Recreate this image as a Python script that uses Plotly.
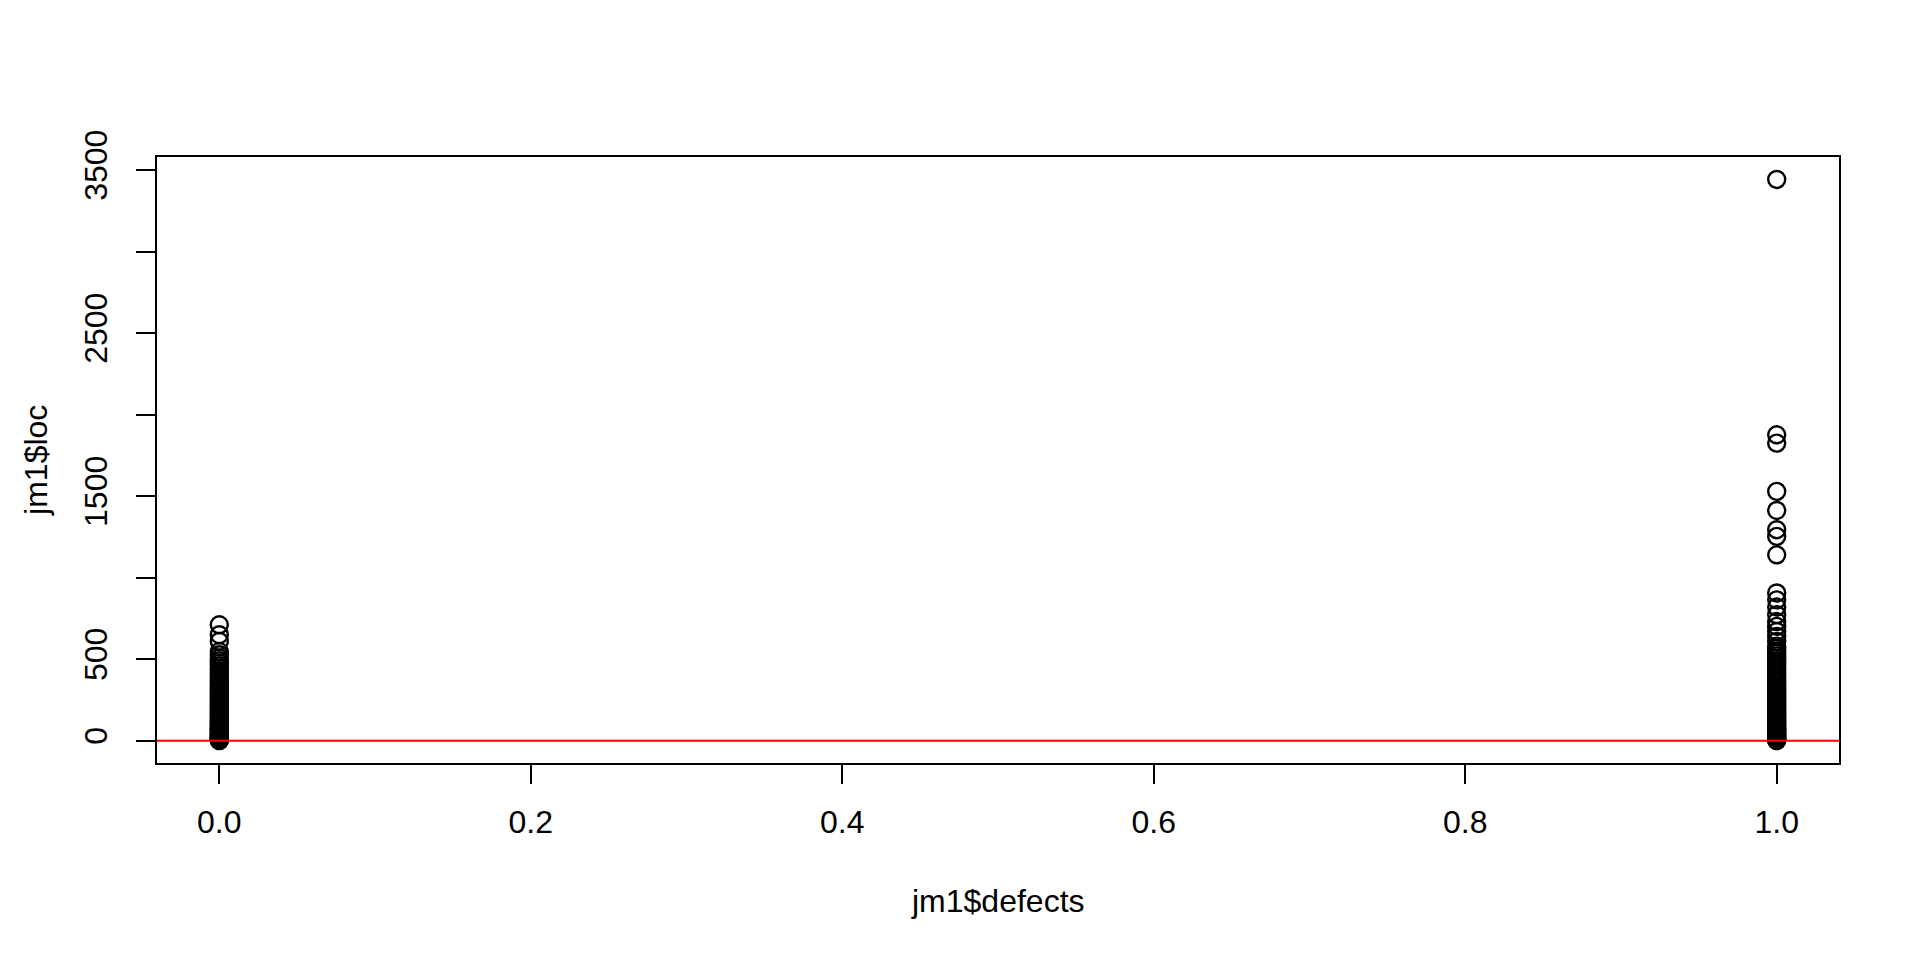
import plotly.graph_objects as go

# jm1$defects groups and jm1$loc values
defects_false_loc = [
    1, 4, 8, 12, 16, 20, 25, 30, 35, 40, 46, 52, 58, 64, 70, 77, 84, 91, 98,
    106, 114, 122, 130, 139, 148, 157, 166, 176, 186, 196, 207, 218, 229, 240,
    252, 264, 276, 289, 302, 315, 328, 342, 356, 370, 385, 400, 415, 430, 445,
    460, 475, 490, 507, 527, 547, 609, 650, 711,
]
defects_true_loc = [
    1, 4, 8, 12, 16, 20, 25, 30, 35, 40, 46, 52, 58, 64, 70, 77, 84, 91, 98,
    106, 114, 122, 130, 139, 148, 157, 166, 176, 186, 196, 207, 218, 229, 240,
    252, 264, 276, 289, 302, 315, 328, 342, 356, 370, 385, 400, 415, 430, 445,
    460, 475, 490, 505, 520, 535, 550, 565, 580, 609, 640, 670, 701, 731, 773,
    820, 864, 906, 1140, 1253, 1294, 1412, 1529, 1825, 1876, 3442,
]
defects_false_x = [0.0] * len(defects_false_loc)
defects_true_x = [1.0] * len(defects_true_loc)

x_ticks = [0.0, 0.2, 0.4, 0.6, 0.8, 1.0]
x_tick_labels = ["0.0", "0.2", "0.4", "0.6", "0.8", "1.0"]
y_ticks = [0, 500, 1000, 1500, 2000, 2500, 3000, 3500]
y_tick_labels = ["0", "500", "", "1500", "", "2500", "", "3500"]
hline_value = 0

all_x = defects_false_x + defects_true_x
all_y = defects_false_loc + defects_true_loc
xmin, xmax = min(all_x), max(all_x)
ymin, ymax = min(all_y), max(all_y)
xpad = 0.04 * (xmax - xmin)
ypad = 0.04 * (ymax - ymin)

FONT = "Liberation Sans, Arial, Helvetica, sans-serif"
FS = 32

fig = go.Figure()
fig.add_trace(go.Scatter(
    x=all_x, y=all_y, mode="markers",
    marker=dict(symbol="circle-open", size=17, color="black",
                line=dict(width=2.4, color="black")),
    showlegend=False, hoverinfo="x+y",
))

fig.add_shape(type="line", xref="paper", x0=0, x1=1, yref="y",
              y0=hline_value, y1=hline_value,
              line=dict(color="red", width=2), layer="above")

axis_common = dict(
    showline=True, linecolor="black", linewidth=2, mirror=True,
    ticks="outside", ticklen=19, tickwidth=1.6, tickcolor="black",
    showgrid=False, zeroline=False,
    tickfont=dict(family=FONT, size=FS, color="black"),
)

fig.update_layout(
    width=1920, height=960,
    paper_bgcolor="white", plot_bgcolor="white",
    margin=dict(l=149, r=89, t=149, b=205),
    xaxis=dict(range=[xmin - xpad, xmax + xpad], tickvals=x_ticks,
               ticktext=x_tick_labels, ticklabelstandoff=11, **axis_common),
    yaxis=dict(range=[ymin - ypad, ymax + ypad], tickvals=y_ticks,
               ticktext=y_tick_labels, tickangle=-90, ticklabelstandoff=16,
               **axis_common),
    annotations=[
        dict(text="jm1$defects", xref="paper", yref="paper", x=0.5, y=-0.228,
             xanchor="center", yanchor="middle", showarrow=False,
             font=dict(family=FONT, size=FS, color="black")),
        dict(text="jm1$loc", xref="paper", yref="paper", x=-0.072, y=0.5,
             xanchor="center", yanchor="middle", showarrow=False, textangle=-90,
             font=dict(family=FONT, size=FS, color="black")),
    ],
)

fig.write_html("out.html")
